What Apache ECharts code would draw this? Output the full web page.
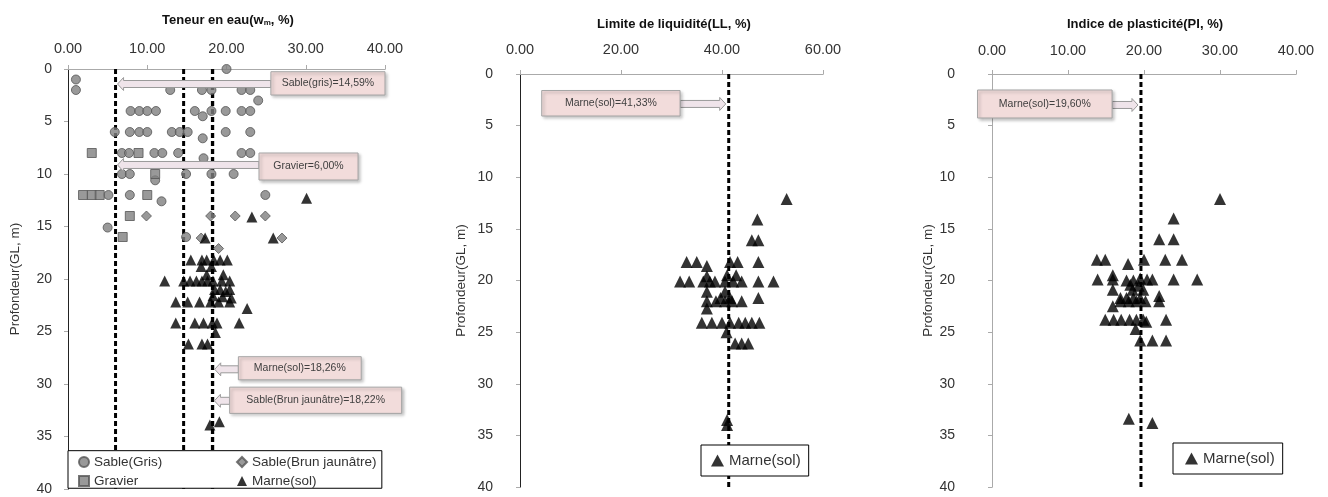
<!DOCTYPE html>
<html><head><meta charset="utf-8">
<script src="https://cdn.jsdelivr.net/npm/echarts@6/dist/echarts.min.js"></script>
<style>html,body{margin:0;padding:0;background:#fff}#c{width:1328px;height:497px}</style>
</head><body><div id="c"></div>
<script>
// ---- Panel 1 : Teneur en eau (w, %) vs Profondeur (m) : [value, depth]
const sableGrisW = [[20.0,0],[1.0,1],[1.0,2],[12.9,2],[16.9,2],[18.1,2],[21.9,2],[23.0,2],[24.0,3],
  [7.9,4],[9.0,4],[10.0,4],[11.1,4],[16.0,4],[17.0,4.5],[18.1,4],[19.9,4],[21.9,4],[23.0,4],
  [5.9,6],[7.8,6],[9.0,6],[10.0,6],[13.1,6],[14.1,6],[15.1,6],[17.0,6.6],[19.9,6],[23.0,6],
  [6.8,8],[7.7,8],[10.9,8],[11.9,8],[13.9,8],[17.1,8.5],[21.9,8],[23.0,8],
  [6.8,10],[7.8,10],[11.0,10.6],[14.9,10],[18.1,10],[20.9,10],
  [5.1,12],[7.8,12],[11.8,12.6],[24.9,12],[5.0,15.1],[14.9,16]];
const sableBrunW = [[9.9,14],[18.0,14],[21.1,14],[24.9,14],[16.8,16.1],[27.0,16.1],[19.0,17.1]];
const gravierW = [[3.0,8],[8.9,8],[11.0,10],[1.9,12],[3.0,12],[4.0,12],[10.0,12],[7.8,14],[6.9,16]];
const marneW = [[30.1,12.3],[23.2,14.1],[25.9,16.1],[17.3,16.1],
  [15.5,18.2],[16.9,18.2],[17.5,18.2],[18.4,18.2],[19.2,18.2],[20.1,18.2],[16.8,18.8],[18.1,18.8],
  [17.5,19.6],[19.6,19.6],
  [12.2,20.2],[14.6,20.2],[15.4,20.2],[16.2,20.2],[16.9,20.2],[17.6,20.2],[18.3,20.2],[19.4,20.2],[20.4,20.2],
  [18.5,21.0],[19.2,21.0],[19.9,21.2],[20.4,21.0],[18.3,21.6],[19.5,21.7],[20.6,21.8],
  [13.6,22.2],[15.1,22.2],[16.6,22.2],[18.0,22.2],[19.0,22.2],[20.4,22.2],[22.6,22.8],
  [13.6,24.2],[16.0,24.2],[17.1,24.2],[18.2,24.2],[18.8,24.2],[21.6,24.2],[18.6,25.1],
  [15.2,26.2],[16.9,26.2],[17.6,26.2],[17.9,33.9],[19.1,33.6]];
// ---- Panel 2 : Limite de liquidité (LL, %)
const marneLL = [[52.8,12.1],[47.0,14.1],[45.9,16.1],[47.2,16.1],
  [33.0,18.2],[35.0,18.2],[41.6,18.2],[43.1,18.2],[47.2,18.2],[37.0,18.6],
  [41.0,19.5],[42.8,19.5],[37.0,19.6],
  [31.7,20.1],[33.5,20.1],[36.3,20.1],[37.6,20.1],[38.6,20.1],[40.6,20.1],[42.2,20.1],[43.9,20.1],[47.2,20.1],[50.2,20.1],
  [37.0,21.1],[40.6,21.1],[39.7,21.7],[41.6,21.7],[47.2,21.7],
  [37.0,22.0],[38.8,22.0],[40.6,22.0],[42.0,22.0],[43.9,22.0],[37.0,22.7],
  [36.0,24.1],[38.0,24.1],[40.0,24.1],[41.6,24.1],[43.3,24.1],[44.6,24.1],[45.9,24.1],[47.4,24.1],
  [40.9,25.0],[42.6,26.1],[43.9,26.1],[45.2,26.1],[41.0,33.5],[41.0,34.0]];
// ---- Panel 3 : Indice de plasticité (PI, %)
const marnePI = [[30.0,12.1],[23.9,14.0],[22.0,16.0],[23.9,16.0],
  [13.8,18.0],[14.9,18.0],[20.0,18.0],[22.8,18.0],[25.0,18.0],[17.9,18.4],
  [13.9,19.9],[15.9,19.9],[17.7,20.0],[18.6,20.0],[19.5,19.8],[20.4,19.9],[21.1,19.9],[23.9,19.9],[27.0,19.9],
  [15.9,19.5],[18.2,20.4],[19.3,20.5],[15.9,20.9],[18.5,20.9],[19.9,20.9],
  [16.9,21.7],[17.7,21.7],[18.6,21.7],[19.5,21.7],[22.0,21.5],
  [16.9,22.0],[18.0,22.0],[19.0,22.0],[20.2,22.0],[22.0,22.0],[15.9,22.5],
  [14.9,23.8],[16.0,23.8],[17.0,23.8],[18.1,23.8],[19.0,23.8],[19.9,23.8],[20.3,24.0],[22.9,23.8],
  [18.9,24.7],[19.5,25.8],[21.1,25.8],[22.9,25.8],[18.0,33.4],[21.1,33.8]];
// ---- Mean values (dashed lines)
const meanW = [6.00, 14.59, 18.26, 18.22];
const meanLL = [41.33];
const meanPI = [19.60];
// ---- Axes
const depthRange = [0, 40, 5];
const xRanges = [[0, 40, 10], [0, 60, 20], [0, 40, 10]];
const panelTitles = ['{a|Teneur en eau(w}{s|m}{a|, %)}', '{a|Limite de liquidité(LL, %)}', '{a|Indice de plasticité(PI, %)}'];
const depthName = 'Profondeur(GL, m)';
const calloutTexts = ['Sable(gris)=14,59%', 'Gravier=6,00%', 'Marne(sol)=18,26%', 'Sable(Brun jaunâtre)=18,22%', 'Marne(sol)=41,33%', 'Marne(sol)=19,60%'];

const FONT = '"Liberation Sans", Arial, sans-serif';
const chart = echarts.init(document.getElementById('c'), null, {renderer: 'canvas'});

const grids = [
  {left: 68, top: 69, width: 317, height: 420},
  {left: 520, top: 74, width: 303, height: 413},
  {left: 992, top: 74, width: 304, height: 413}
];
const xLabelMargin = [13, 17, 16];
const yLabelMargin = [16, 27, 37];
const yNameGap = [46, 52, 54];
const rightColor = ['#222', '#222', '#aaa'];

const xAxes = [], yAxes = [];
for (let g = 0; g < 3; g++) {
  xAxes.push({gridIndex: g, type: 'value', position: 'top', min: xRanges[g][0], max: xRanges[g][1], interval: xRanges[g][2],
    axisLine: {show: true, lineStyle: {color: '#aaa'}}, axisTick: {show: true, length: 4, lineStyle: {color: '#aaa'}},
    splitLine: {show: false},
    axisLabel: {formatter: v => v.toFixed(2), fontFamily: FONT, fontSize: 14.5, color: '#333', margin: xLabelMargin[g]}});
}
for (let g = 0; g < 3; g++) {
  xAxes.push({gridIndex: g, type: 'value', position: 'bottom', min: xRanges[g][0], max: xRanges[g][1],
    axisLine: {show: true, lineStyle: {color: '#aaa'}}, axisTick: {show: false}, axisLabel: {show: false}, splitLine: {show: false}});
}
for (let g = 0; g < 3; g++) {
  yAxes.push({gridIndex: g, type: 'value', inverse: true, min: depthRange[0], max: depthRange[1], interval: depthRange[2],
    name: depthName, nameLocation: 'middle', nameRotate: 90, nameGap: yNameGap[g],
    nameTextStyle: {fontFamily: FONT, fontSize: 13.5, color: '#333'},
    axisLine: {show: true, lineStyle: {color: '#aaa'}}, axisTick: {show: true, length: 4, lineStyle: {color: '#aaa'}},
    splitLine: {show: false},
    axisLabel: {fontFamily: FONT, fontSize: 14, color: '#333', margin: yLabelMargin[g]}});
}
for (let g = 0; g < 3; g++) {
  yAxes.push({gridIndex: g, type: 'value', position: 'right', inverse: true, min: depthRange[0], max: depthRange[1],
    axisLine: {show: true, lineStyle: {color: rightColor[g], width: 1}}, axisTick: {show: false}, axisLabel: {show: false}, splitLine: {show: false}});
}

const grayStyle = {color: '#808080', borderColor: '#555', borderWidth: 1};
const series = [
  {name: 'Sable(Gris)', type: 'scatter', xAxisIndex: 0, yAxisIndex: 0, symbol: 'circle', symbolSize: 9, itemStyle: grayStyle, data: sableGrisW, z: 2},
  {name: 'Sable(Brun jaunâtre)', type: 'scatter', xAxisIndex: 0, yAxisIndex: 0, symbol: 'diamond', symbolSize: 10, itemStyle: grayStyle, data: sableBrunW, z: 2},
  {name: 'Gravier', type: 'scatter', xAxisIndex: 0, yAxisIndex: 0, symbol: 'rect', symbolSize: 9, itemStyle: grayStyle, data: gravierW, z: 2},
  {name: 'Marne(sol)', type: 'scatter', xAxisIndex: 0, yAxisIndex: 0, symbol: 'triangle', symbolSize: 11, itemStyle: {color: '#000'}, data: marneW, z: 2},
  {name: 'Marne(sol)', type: 'scatter', xAxisIndex: 1, yAxisIndex: 1, symbol: 'triangle', symbolSize: 12, itemStyle: {color: '#000'}, data: marneLL, z: 2},
  {name: 'Marne(sol)', type: 'scatter', xAxisIndex: 2, yAxisIndex: 2, symbol: 'triangle', symbolSize: 12, itemStyle: {color: '#000'}, data: marnePI, z: 2}
];
function dashed(g, v) {
  return {name: 'mean', type: 'line', xAxisIndex: g, yAxisIndex: g, data: [[v, depthRange[0]], [v, depthRange[1]]],
    showSymbol: false, symbol: 'none', silent: true, z: 1,
    lineStyle: {color: '#000', width: 3, type: [5, 3]}};
}
meanW.forEach(v => series.push(dashed(0, v)));
meanLL.forEach(v => series.push(dashed(1, v)));
meanPI.forEach(v => series.push(dashed(2, v)));

const legendText = {fontFamily: FONT, fontSize: 13.5, color: '#333'};
const option = {
  animation: false,
  backgroundColor: '#fff',
  grid: grids,
  xAxis: xAxes,
  yAxis: yAxes,
  legend: [
    {data: ['Sable(Gris)', 'Gravier'], orient: 'vertical', left: 78, top: 455, padding: 0, itemGap: 5, itemWidth: 10, itemHeight: 10, selectedMode: false, textStyle: legendText, z: 4},
    {data: ['Sable(Brun jaunâtre)', 'Marne(sol)'], orient: 'vertical', left: 236, top: 455, padding: 0, itemGap: 5, itemWidth: 10, itemHeight: 10, selectedMode: false, textStyle: legendText, z: 4},
    {data: ['Marne(sol)'], left: 701, top: 445, padding: [8, 8, 8, 10], itemWidth: 13, itemHeight: 12, itemGap: 4, selectedMode: false,
      backgroundColor: '#fff', borderColor: '#000', borderWidth: 1, textStyle: {fontFamily: FONT, fontSize: 15, color: '#333'}, z: 4},
    {data: ['Marne(sol)'], left: 1173, top: 443, padding: [8, 8, 8, 12], itemWidth: 13, itemHeight: 12, itemGap: 4, selectedMode: false,
      backgroundColor: '#fff', borderColor: '#000', borderWidth: 1, textStyle: {fontFamily: FONT, fontSize: 15, color: '#333'}, z: 4}
  ],
  series: series
};
chart.setOption(option);

// ---- Annotations (anchored in data coordinates)
const callouts = [
  {s: 0, text: calloutTexts[0], box: [25.6, 0.26, 40.0, 2.48], arrowY: 1.43, tip: meanW[0]},
  {s: 0, text: calloutTexts[1], box: [24.1, 8.0, 36.6, 10.57], arrowY: 9.14, tip: meanW[0]},
  {s: 0, text: calloutTexts[2], box: [21.5, 27.4, 37.0, 29.6], arrowY: 28.6, tip: meanW[2]},
  {s: 0, text: calloutTexts[3], box: [20.4, 30.3, 42.1, 32.8], arrowY: 31.6, tip: meanW[3]},
  {s: 4, text: calloutTexts[4], box: [4.3, 1.6, 31.7, 4.07], arrowY: 2.9, tip: meanLL[0]},
  {s: 5, text: calloutTexts[5], box: [-1.9, 1.55, 15.8, 4.26], arrowY: 3.0, tip: meanPI[0]}
];
const graphics = [];
callouts.forEach(c => {
  const p0 = chart.convertToPixel({seriesIndex: c.s}, [c.box[0], c.box[1]]);
  const p1 = chart.convertToPixel({seriesIndex: c.s}, [c.box[2], c.box[3]]);
  const pa = chart.convertToPixel({seriesIndex: c.s}, [c.tip, c.arrowY]);
  const left = p0[0], right = p1[0], top = p0[1], bottom = p1[1], ay = pa[1];
  let startX, tipX;
  if (pa[0] < left) { startX = left; tipX = pa[0] + 2; } else { startX = right; tipX = pa[0] - 3; }
  const dir = tipX < startX ? -1 : 1;
  const hl = 6, sh = 3.5, hh = 6.5, neck = tipX - dir * hl;
  graphics.push({type: 'polygon', z: 5, shape: {points: [[startX, ay - sh], [neck, ay - sh], [neck, ay - hh], [tipX, ay], [neck, ay + hh], [neck, ay + sh], [startX, ay + sh]]},
    style: {fill: '#efe4ea', stroke: '#9a9a9a', lineWidth: 1}});
  graphics.push({type: 'rect', z: 5, shape: {x: left, y: top, width: right - left, height: bottom - top},
    style: {fill: '#f2dcdb', stroke: '#a5a5a5', lineWidth: 1, shadowBlur: 3, shadowColor: 'rgba(0,0,0,0.25)', shadowOffsetX: 2, shadowOffsetY: 2}});
  graphics.push({type: 'text', z: 6, x: (left + right) / 2, y: (top + bottom) / 2,
    style: {text: c.text, align: 'center', verticalAlign: 'middle', textAlign: 'center', textVerticalAlign: 'middle', fill: '#404040', font: '10.5px ' + FONT}});
});
// legend frame of panel 1
const lf0 = chart.convertToPixel({seriesIndex: 0}, [0, 36.35]);
const lf1 = chart.convertToPixel({seriesIndex: 0}, [39.6, 39.93]);
graphics.push({type: 'rect', z: 3, shape: {x: lf0[0], y: lf0[1], width: lf1[0] - lf0[0], height: lf1[1] - lf0[1]}, style: {fill: '#fff', stroke: '#000', lineWidth: 1}});
// panel titles
const titleCenters = [228, 674, 1145];
panelTitles.forEach((t, i) => {
  graphics.push({type: 'text', z: 6, x: titleCenters[i], y: i === 0 ? 20 : 24,
    style: {text: t, align: 'center', verticalAlign: 'middle', textAlign: 'center', textVerticalAlign: 'middle', fill: '#111',
      rich: {a: {fontFamily: FONT, fontSize: 13, fontWeight: 'bold', fill: '#111', color: '#111'},
             s: {fontFamily: FONT, fontSize: 8, fontWeight: 'bold', fill: '#111', color: '#111', padding: [6, 0, 0, 0]}}}});
});
chart.setOption({graphic: graphics});
</script>
</body></html>
